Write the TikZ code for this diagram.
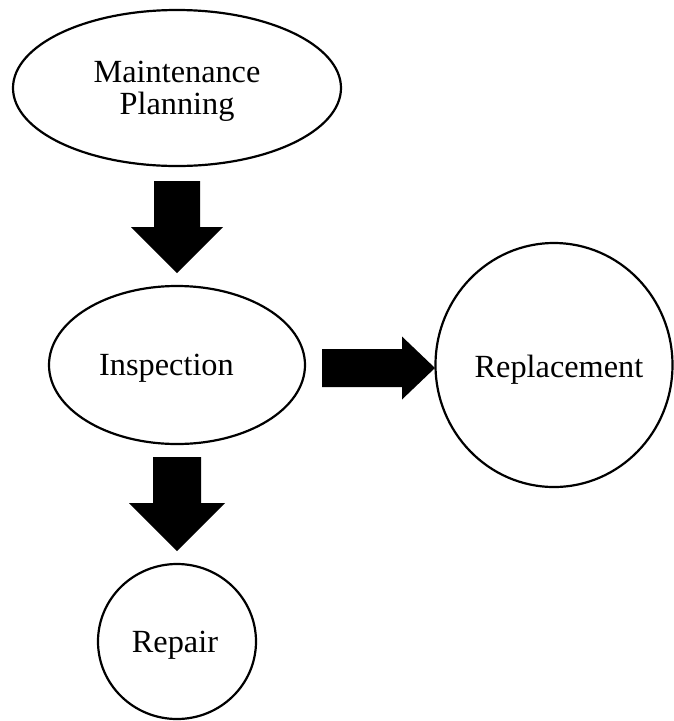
\documentclass[tikz,border=0pt]{standalone}
\usepackage{fontspec}
\setmainfont{Liberation Serif}
\usetikzlibrary{shapes.geometric}
\begin{document}
\begin{tikzpicture}[x=1pt,y=-1pt,
  stage/.style={draw=black, line width=2.2pt, ellipse, inner sep=0pt},
  lbl/.style={font=\fontsize{32.3}{32}\selectfont, inner sep=0pt, anchor=base, align=center},
  blockarrow/.style={fill=black, draw=none}]
\useasboundingbox (0,0) rectangle (674,721);

% process stages
\node[stage, minimum width=328pt, minimum height=156pt] (plan) at (177,88) {};
\node[stage, minimum width=256pt, minimum height=158pt] (insp) at (177,365) {};
\node[stage, minimum width=237pt, minimum height=244pt] (repl) at (554,365) {};
\node[stage, minimum width=158pt, minimum height=155pt] (rep) at (177,641.5) {};

% stage labels (base anchor sits on the last line)
\node[lbl] (planlbl) at (177,114) {Maintenance\\Planning};
\node[lbl] (insplbl) at (166.5,375) {Inspection};
\node[lbl] (repllbl) at (559,377) {Replacement};
\node[lbl] (replbl) at (175,652) {Repair};

% block arrows: tail and tip of each
\coordinate (t1) at (177,181);
\coordinate (h1) at (177,273);
\coordinate (t2) at (322,368);
\coordinate (h2) at (435,368);
\coordinate (t3) at (177,457);
\coordinate (h3) at (177,551);

% planning -> inspection
\fill[blockarrow] (t1) ++(-23,0) -- ++(46,0) -- ++(0,46) -- ++(23,0) -- (h1)
  -- ++(-46,-46) -- ++(23,0) -- cycle;
% inspection -> replacement
\fill[blockarrow] (t2) ++(0,-19) -- ++(80,0) -- ++(0,-12.5) -- (h2)
  -- ++(-33,31.5) -- ++(0,-12.5) -- ++(-80,0) -- cycle;
% inspection -> repair
\fill[blockarrow] (t3) ++(-24,0) -- ++(48,0) -- ++(0,46) -- ++(24,0) -- (h3)
  -- ++(-48,-48) -- ++(24,0) -- cycle;
\end{tikzpicture}
\end{document}
